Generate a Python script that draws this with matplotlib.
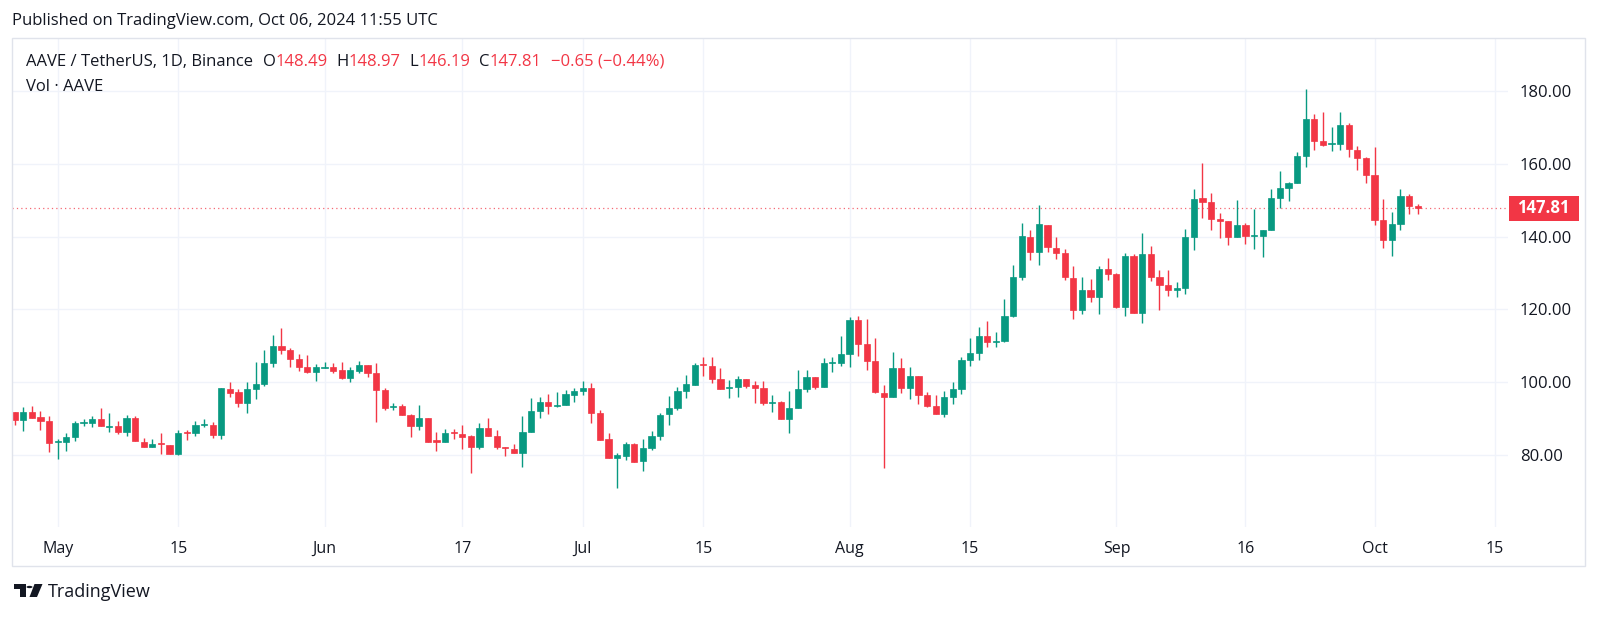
import matplotlib
matplotlib.use("Agg")
import matplotlib.pyplot as plt
import matplotlib.dates as mdates
import matplotlib.transforms as mtransforms
from matplotlib.patches import Rectangle, Circle, Polygon
import numpy as np
import pandas as pd

plt.rcParams['font.family'] = ['Open Sans', 'DejaVu Sans']

# Daily candles AAVE/USDT, 2024-04-26 .. 2024-10-06
first_day = "2024-04-26"
opens = [91.7, 89.6, 91.85, 90.4, 89.4,
         83.5, 83.5, 84.9, 88.8, 88.8, 90.0, 87.8, 87.9, 86.2, 90.1,
         83.6, 82.2, 83.1, 82.8, 80.3, 86.2, 86.0, 88.3, 88.3, 85.5,
         98.2, 97.2, 94.4, 98.0, 99.5, 105.4, 110.0, 108.8, 106.5, 104.1, 102.9,
         104.0, 104.3, 103.3, 101.1, 103.2, 104.6, 102.6, 97.8, 93.2, 93.5,
         90.9, 87.9, 90.1, 83.8, 83.6, 86.2, 85.8, 85.1, 82.1, 87.4,
         85.1, 82.1, 81.7, 80.6, 86.2, 92.1, 94.5, 93.5, 93.6, 96.6,
         97.5, 98.5, 91.6, 84.4, 79.3, 79.8, 83.1, 78.3, 82.0, 85.1,
         91.2, 92.9, 97.7, 99.3, 104.7, 104.4, 100.8, 98.5, 98.6, 100.8,
         99.2, 98.5, 94.3, 94.5, 90.0, 93.0, 98.0, 101.4, 98.7, 105.3, 105.4,
         107.8, 117.1, 110.5, 105.7, 97.1, 95.9, 103.8, 98.5, 101.7, 96.4,
         93.5, 91.4, 95.9, 98.1, 106.2, 108.1, 112.7, 111.1, 111.3, 118.1,
         128.9, 140.0, 135.7, 143.3, 136.9, 135.4, 128.6, 119.9, 125.4, 123.4, 131.1,
         129.6, 120.6, 134.8, 119.0, 135.1, 128.9, 126.8, 125.2, 125.9, 139.8,
         150.6, 149.4, 144.9, 144.4, 139.8, 143.3, 140.1, 140.3, 141.7, 150.5,
         153.4, 154.6, 162.2, 172.2, 166.4, 165.5, 165.4, 170.6, 163.9, 161.6,
         156.8, 144.6, 139.1, 143.5, 151.2, 148.49]
highs = [91.9, 93.2, 93.5, 92.0, 90.6,
         84.4, 86.0, 89.3, 90.0, 90.8, 93.0, 91.6, 89.3, 90.9, 90.8,
         84.7, 84.4, 86.0, 82.8, 86.9, 86.9, 89.4, 90.0, 89.1, 98.3,
         100.1, 98.1, 100.1, 105.6, 108.9, 113.1, 115.0, 109.4, 107.8, 107.6, 105.0,
         105.6, 105.4, 105.6, 104.3, 105.8, 104.8, 105.3, 98.3, 94.4, 93.9,
         91.4, 93.7, 90.1, 86.4, 87.2, 87.2, 88.2, 85.5, 88.9, 90.3,
         86.9, 82.2, 82.9, 90.6, 95.6, 95.8, 96.8, 97.3, 97.8, 98.4,
         100.2, 99.9, 92.5, 86.1, 80.6, 83.7, 83.3, 84.4, 86.5, 91.5,
         96.2, 98.6, 102.0, 105.3, 106.9, 106.9, 103.9, 100.6, 101.6, 100.8,
         100.4, 100.4, 96.4, 94.8, 97.6, 103.4, 103.4, 101.4, 106.6, 106.9, 112.6,
         117.9, 118.3, 117.4, 112.2, 99.1, 108.4, 106.7, 104.1, 101.7, 97.2,
         96.4, 97.6, 100.1, 106.8, 112.2, 115.2, 116.9, 113.8, 122.8, 132.3,
         143.8, 141.9, 148.8, 143.3, 139.8, 136.6, 131.8, 128.9, 128.3, 131.8, 134.2,
         130.0, 135.4, 135.1, 140.9, 137.3, 130.9, 130.7, 127.5, 142.1, 153.1,
         160.2, 152.1, 146.6, 144.4, 150.0, 143.8, 147.7, 141.9, 153.1, 158.1,
         155.1, 163.2, 180.6, 173.8, 174.1, 170.2, 174.1, 171.3, 165.0, 162.0,
         164.6, 150.3, 146.8, 153.0, 151.7, 148.97]
lows = [88.3, 86.5, 90.3, 87.0, 80.9,
        78.9, 81.2, 83.8, 88.1, 87.6, 87.9, 86.3, 85.7, 85.2, 83.9,
        82.3, 82.2, 80.3, 80.3, 80.1, 84.0, 85.2, 87.7, 84.6, 84.4,
        95.8, 93.1, 91.5, 95.5, 99.0, 104.1, 107.7, 104.1, 103.0, 102.5, 100.3,
        103.8, 102.5, 101.0, 100.0, 102.5, 101.3, 89.1, 92.3, 92.3, 90.9,
        85.0, 87.0, 83.6, 81.0, 83.6, 84.5, 81.7, 75.1, 81.7, 85.1,
        81.7, 79.8, 80.6, 76.6, 86.2, 90.2, 91.3, 93.3, 93.6, 94.6,
        96.6, 88.8, 84.2, 79.3, 71.0, 78.5, 78.1, 75.6, 81.5, 84.1,
        88.3, 92.3, 95.7, 99.3, 101.6, 99.7, 98.2, 95.7, 96.0, 98.5,
        94.2, 93.7, 91.9, 89.8, 86.1, 93.0, 97.4, 98.2, 98.7, 102.9, 104.5,
        104.1, 107.1, 103.4, 97.1, 76.5, 95.9, 97.0, 95.3, 93.9, 93.1,
        91.2, 90.5, 93.9, 96.7, 104.5, 106.2, 109.8, 109.8, 111.0, 117.9,
        128.1, 133.6, 132.2, 135.7, 133.9, 128.1, 117.4, 118.6, 122.0, 118.6, 128.1,
        120.5, 118.1, 119.0, 116.3, 127.8, 119.9, 123.8, 123.4, 124.3, 136.3,
        145.1, 141.7, 139.6, 137.7, 139.8, 138.1, 136.6, 134.3, 141.7, 147.9,
        149.8, 154.6, 159.0, 163.9, 164.8, 163.4, 163.9, 162.0, 158.3, 154.6,
        143.2, 136.8, 134.7, 141.7, 146.1, 146.19]
closes = [89.7, 91.85, 90.3, 89.4, 83.3,
          83.7, 85.0, 88.9, 88.9, 90.0, 87.9, 87.9, 86.2, 90.1, 83.9,
          82.3, 83.1, 83.0, 80.4, 86.0, 86.0, 88.3, 88.4, 85.5, 98.3,
          97.1, 94.4, 98.1, 99.5, 105.4, 110.0, 108.8, 106.5, 104.1, 102.9, 104.1,
          104.2, 103.2, 101.1, 103.3, 104.7, 102.5, 97.8, 92.9, 93.5, 90.9,
          87.9, 90.1, 83.6, 83.7, 86.1, 86.1, 85.0, 82.1, 87.5, 85.1,
          82.1, 82.0, 80.6, 86.3, 92.2, 94.6, 93.4, 93.7, 96.7, 97.5,
          98.5, 91.6, 84.2, 79.3, 79.9, 83.1, 78.1, 82.0, 85.2, 91.1,
          93.0, 97.7, 99.4, 104.7, 104.6, 100.8, 98.2, 98.7, 100.9, 99.0,
          98.5, 94.2, 94.5, 90.0, 93.0, 98.1, 101.4, 98.8, 105.2, 105.4, 107.8,
          117.1, 110.5, 105.7, 97.4, 95.9, 103.8, 98.5, 101.8, 96.4, 93.5,
          91.4, 95.9, 98.1, 106.2, 108.1, 112.8, 111.1, 111.3, 118.2, 128.9,
          140.1, 135.7, 143.4, 137.1, 135.4, 128.9, 119.9, 125.4, 123.4, 131.1, 129.6,
          120.6, 134.8, 119.0, 135.1, 128.9, 126.8, 125.2, 125.9, 139.8, 150.4,
          149.4, 144.9, 144.4, 139.8, 143.3, 140.1, 140.4, 141.7, 150.5, 153.4,
          154.6, 162.2, 172.2, 166.2, 165.1, 165.6, 170.6, 164.2, 161.6, 156.8,
          144.6, 139.1, 143.5, 151.2, 148.46, 147.81]

price_ticks = [80, 100, 120, 140, 160, 180]
time_ticks = ["2024-05-01", "2024-05-15", "2024-06-01", "2024-06-17", "2024-07-01", "2024-07-15",
              "2024-08-01", "2024-08-15", "2024-09-01", "2024-09-16", "2024-10-01", "2024-10-15"]
time_labels = ["May", "15", "Jun", "17", "Jul", "15", "Aug", "15", "Sep", "16", "Oct", "15"]
last_price = 147.81

GREEN = "#089981"
RED = "#f23645"
TEXT = "#131722"
GRID = "#f0f3fa"

W, H = 1600, 618
fig = plt.figure(figsize=(W / 100, H / 100), dpi=100)
fig.patch.set_facecolor("white")

def px(x, y):
    # pixel coords (top-left origin) -> figure fraction
    return x / W, 1 - y / H

# chart pane
left, right, top, bottom = 12, 1508, 38, 527
ax = fig.add_axes([left / W, 1 - bottom / H, (right - left) / W, (bottom - top) / H])

dates = pd.date_range(first_day, periods=len(opens), freq="D")
x = mdates.date2num(dates)
o = np.array(opens)
h = np.array(highs)
l = np.array(lows)
c = np.array(closes)
up = c >= o
colors = np.where(up, GREEN, RED)

ax.vlines(x, l, h, colors=colors, linewidth=1.0, zorder=3)
body_lo = np.minimum(o, c)
body_h = np.maximum(np.abs(c - o), 0.3)
ax.bar(x, body_h, bottom=body_lo, width=0.72, color=colors, edgecolor=colors,
       linewidth=0.5, zorder=4)

# axis scale (matches the reference pixel mapping)
may1 = mdates.date2num(pd.Timestamp("2024-05-01"))
ax.set_xlim(may1 - 5.31, may1 + 168.5)
ax.set_ylim(60.22, 194.56)

tick_x = mdates.date2num(pd.to_datetime(time_ticks))
ax.set_xticks(tick_x)
ax.set_xticklabels(time_labels)
ax.set_yticks(price_ticks)
ax.set_yticklabels([f"{v:.2f}" for v in price_ticks])
ax.yaxis.tick_right()
ax.tick_params(axis="y", length=0, pad=8.6, labelsize=12, labelcolor=TEXT)
ax.tick_params(axis="x", length=0, pad=10, labelsize=11.5, labelcolor=TEXT)
ax.grid(True, color=GRID, linewidth=1.0, zorder=0)
ax.set_axisbelow(True)
for s in ax.spines.values():
    s.set_visible(False)

# last price line + label
ax.axhline(last_price, color=RED, linewidth=0.9, linestyle=(0, (1, 2.5)), alpha=0.75, zorder=2)
blend = mtransforms.blended_transform_factory(ax.transAxes, ax.transData)
box_h = 24.7 / 3.64 / 2
ax.add_patch(Rectangle((1.0005, last_price - box_h), 70 / (right - left), 2 * box_h,
                       transform=blend, facecolor=RED, edgecolor="none", clip_on=False, zorder=5))
ax.text(1 + 35 / (right - left), last_price, f"{last_price:.2f}", transform=blend,
        ha="center", va="center", color="white", fontsize=12, fontweight="bold", zorder=6)

# outer frame
fx0, fy1 = px(12, 38)
fx1, fy0 = px(1585, 566)
fig.add_artist(Rectangle((fx0, fy0), fx1 - fx0, fy1 - fy0, transform=fig.transFigure,
                         fill=False, edgecolor="#e0e3eb", linewidth=1.0))

# texts
fig.text(*px(12, 21), "Published on TradingView.com, Oct 06, 2024 11:55 UTC",
         ha="left", va="center", fontsize=12, color=TEXT)

pieces = [("AAVE / TetherUS, 1D, Binance", TEXT, 0), ("O", TEXT, 9), ("148.49", RED, 0),
          ("H", TEXT, 9), ("148.97", RED, 0), ("L", TEXT, 9), ("146.19", RED, 0),
          ("C", TEXT, 9), ("147.81", RED, 0), ("\u22120.65 (\u22120.44%)", RED, 9)]
prev = None
for txt, col, gap in pieces:
    if prev is None:
        prev = fig.text(*px(26.5, 62), txt, ha="left", va="center", fontsize=12, color=col)
    else:
        prev = ax.annotate(txt, xy=(1, 0), xycoords=prev, xytext=(gap * 0.72, 0),
                           textcoords="offset points", ha="left", va="bottom",
                           fontsize=12, color=col, annotation_clip=False)

fig.text(*px(26.5, 87), "Vol \u00b7 AAVE", ha="left", va="center", fontsize=12, color=TEXT)

# TradingView logo
logo = [Polygon([px(14, 584), px(26, 584), px(26, 597), px(20, 597), px(20, 589), px(14, 589)]),
        Circle(px(29.5, 587), 3.0 / W),
        Polygon([px(34.5, 584), px(42.5, 584), px(37, 597), px(29.5, 597)])]
for p in logo:
    p.set_transform(fig.transFigure)
    p.set_facecolor(TEXT)
    p.set_edgecolor("none")
    fig.add_artist(p)
fig.text(*px(48, 592), "TradingView", ha="left", va="center", fontsize=13, color=TEXT)

fig.savefig("out.png", dpi=100, facecolor="white")
